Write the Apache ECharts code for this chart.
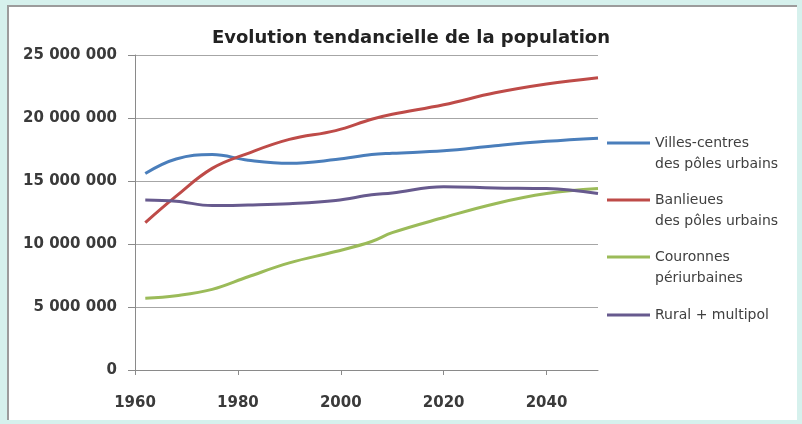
<!DOCTYPE html>
<html>
<head>
<meta charset="utf-8">
<script src="https://cdn.jsdelivr.net/npm/echarts@6/dist/echarts.min.js"></script>
<style>
  html, body { margin: 0; padding: 0; background: #d6f1ed; }
  #panel { position: absolute; left: 7px; top: 5px; width: 790px; height: 415px; background: #ffffff;
           border-left: 2px solid #9c9c9c; border-top: 2px solid #9c9c9c; box-sizing: border-box; }
  #chart { position: absolute; left: 0; top: 0; width: 802px; height: 424px; }
</style>
</head>
<body>
<div id="panel"></div>
<div id="chart"></div>
<script>
const title = "Evolution tendancielle de la population";
const years = [1962, 1968, 1975, 1982, 1990, 1999, 2006, 2010, 2020, 2030, 2040, 2050];
const seriesNames = ["Villes-centres\ndes pôles urbains", "Banlieues\ndes pôles urbains", "Couronnes\npériurbaines", "Rural + multipol"];
const villesCentres = [15600000, 16750000, 17100000, 16650000, 16400000, 16700000, 17100000, 17200000, 17400000, 17800000, 18150000, 18400000];
const banlieues    = [11700000, 13800000, 16000000, 17200000, 18300000, 19000000, 19900000, 20300000, 21050000, 22000000, 22700000, 23200000];
const couronnes    = [5700000, 5900000, 6400000, 7400000, 8500000, 9400000, 10200000, 10900000, 12100000, 13200000, 14000000, 14400000];
const rural        = [13500000, 13400000, 13050000, 13100000, 13200000, 13450000, 13900000, 14050000, 14550000, 14450000, 14400000, 14000000];
const xTicks = [1960, 1980, 2000, 2020, 2040];
const yTicks = [0, 5000000, 10000000, 15000000, 20000000, 25000000];

const colors = ["#4a7ebb", "#be4b48", "#9bbb59", "#675a8e"];
const values = [villesCentres, banlieues, couronnes, rural];

function fmt(v) {
  return String(v).replace(/\B(?=(\d{3})+(?!\d))/g, " ");
}

const chart = echarts.init(document.getElementById('chart'));
const LH = 21;
const iconY = [143, 200, 257, 315];
const legends = seriesNames.map((n, i) => {
  const twoLine = n.indexOf("\n") >= 0;
  const h = twoLine ? 3 * LH : LH;
  return {
    data: [n],
    left: 607,
    top: iconY[i] - h / 2,
    orient: 'vertical',
    padding: 0,
    itemWidth: 43,
    itemHeight: 3,
    icon: 'rect',
    selectedMode: false,
    formatter: name => (name.indexOf("\n") >= 0 ? " \n" + name : name),
    textStyle: {
      fontFamily: "DejaVu Sans",
      fontSize: 14,
      color: "#404040",
      lineHeight: LH
    }
  };
});

chart.setOption({
  animation: false,
  color: colors,
  title: {
    text: title,
    left: 406,
    textAlign: 'center',
    top: 24,
    textStyle: { fontFamily: "DejaVu Sans", fontWeight: "bold", fontSize: 18, color: "#222222" }
  },
  legend: legends,
  grid: { left: 135, right: 204, top: 55, bottom: 54, containLabel: false },
  xAxis: {
    type: 'value',
    min: 1960, max: 2050, interval: 20,
    axisLine: { lineStyle: { color: "#8a8a8a", width: 1 } },
    axisTick: { show: true, length: 5, lineStyle: { color: "#8a8a8a" } },
    splitLine: { show: false },
    axisLabel: {
      showMaxLabel: false,
      margin: 26,
      fontFamily: "DejaVu Sans", fontWeight: "bold", fontSize: 15, color: "#3a3a3a",
      formatter: v => (xTicks.indexOf(v) >= 0 ? String(v) : "")
    }
  },
  yAxis: {
    type: 'value',
    min: 0, max: 25000000, interval: 5000000,
    axisLine: { show: true, lineStyle: { color: "#8a8a8a", width: 1 } },
    axisTick: { show: true, length: 7, lineStyle: { color: "#8a8a8a" } },
    splitLine: { show: true, lineStyle: { color: "#a6a6a6", width: 1 } },
    axisLabel: {
      margin: 18,
      fontFamily: "DejaVu Sans", fontWeight: "bold", fontSize: 15, color: "#3a3a3a",
      formatter: v => (yTicks.indexOf(v) >= 0 ? fmt(v) : "")
    }
  },
  series: seriesNames.map((n, i) => ({
    name: n,
    type: 'line',
    smooth: 0.4,
    showSymbol: false,
    symbol: 'none',
    lineStyle: { width: 3, color: colors[i] },
    itemStyle: { color: colors[i] },
    data: years.map((y, k) => [y, values[i][k]])
  }))
});
</script>
</body>
</html>
